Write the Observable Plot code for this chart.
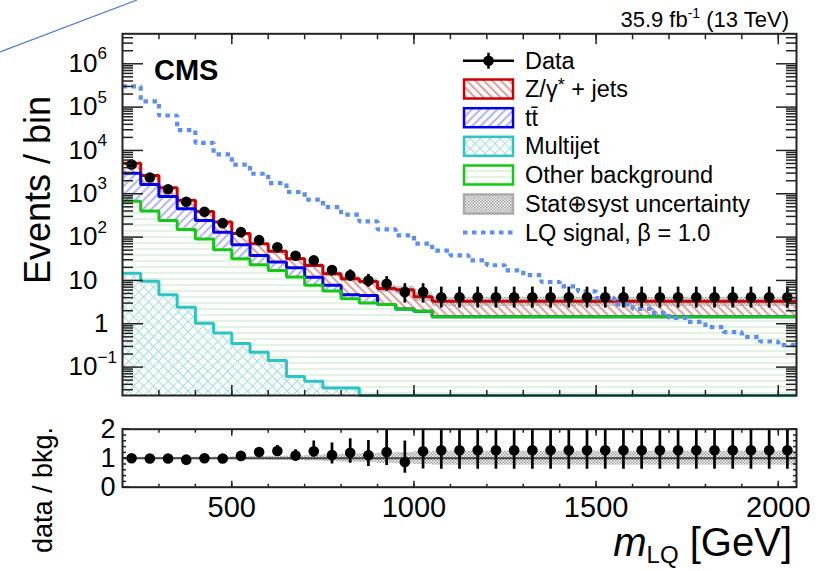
<!DOCTYPE html>
<html>
<head>
<meta charset="utf-8">
<script src="https://cdn.jsdelivr.net/npm/d3@7"></script>
<script src="https://cdn.jsdelivr.net/npm/@observablehq/plot@0.6"></script>
<style>
html,body{margin:0;padding:0;background:#fff}
#wrap{position:relative;width:834px;height:571px;overflow:hidden;font-family:"Liberation Sans",Arial,Helvetica,sans-serif}
#main,#ratio{position:absolute;left:0}
#main{top:0}
#ratio{top:400px}
#overlay{position:absolute;left:0;top:0;pointer-events:none}
</style>
</head>
<body>
<svg width="0" height="0" style="position:absolute;left:0;top:0">
 <defs>
  <pattern id="pZ" patternUnits="userSpaceOnUse" width="6" height="6" patternTransform="rotate(-45)">
    <rect width="6" height="6" fill="#fff"/>
    <line x1="3" y1="0" x2="3" y2="6" stroke="#e06565" stroke-width="1.3"/>
  </pattern>
  <pattern id="pTT" patternUnits="userSpaceOnUse" width="6" height="6" patternTransform="rotate(45)">
    <rect width="6" height="6" fill="#fff"/>
    <line x1="3" y1="0" x2="3" y2="6" stroke="#8c8cf5" stroke-width="1.3"/>
  </pattern>
  <pattern id="pMJ" patternUnits="userSpaceOnUse" width="7" height="7" patternTransform="rotate(45)">
    <rect width="7" height="7" fill="#fff"/>
    <line x1="3.5" y1="0" x2="3.5" y2="7" stroke="#9fe0e0" stroke-width="1"/>
    <line x1="0" y1="3.5" x2="7" y2="3.5" stroke="#9fe0e0" stroke-width="1"/>
  </pattern>
  <pattern id="pOther" patternUnits="userSpaceOnUse" width="6" height="6">
    <rect width="6" height="6" fill="#fff"/>
    <line x1="0" y1="3" x2="6" y2="3" stroke="#cdeccd" stroke-width="1.2"/>
  </pattern>
  <pattern id="pUnc" patternUnits="userSpaceOnUse" width="3" height="3">
    <rect x="0" y="0" width="1.5" height="1.5" fill="#9a9a9a"/>
    <rect x="1.5" y="1.5" width="1.5" height="1.5" fill="#9a9a9a"/>
  </pattern>
 </defs>
</svg>
<div id="wrap">
  <div id="main"></div>
  <div id="ratio"></div>
  <svg id="overlay" width="834" height="571"></svg>
</div>
<script>
// ---------- data ----------
const binLow = [200,250,300,350,400,450,500,550,600,650,700,750,800,850,900,950,1000,1050,1100,1150,1200,1250,1300,1350,1400,1450,1500,1550,1600,1650,1700,1750,1800,1850,1900,1950,2000];
const binWidth = 50;

const dataCounts = [4740,2380,1276,653,384,210,130,85,58,37,29,17.3,13.2,10,8.4,5.4,5.4,
  4.1,4.1,4.1,4.1,4.1,4.1,4.1,4.1,4.1,4.1,4.1,4.1,4.1,4.1,4.1,4.1,4.1,4.1,4.1,4.1];
const dataLow = [4670,2330,1240,627,364,196,119,76,50.5,31,23.7,13.5,9.6,7.0,5.6,3.0,3.0,
  2.3,2.3,2.3,2.3,2.3,2.3,2.3,2.3,2.3,2.3,2.3,2.3,2.3,2.3,2.3,2.3,2.3,2.3,2.3,2.3];
const dataHigh = [4810,2430,1312,679,404,225,141,94.5,66,43,34.5,22,17.5,13.8,12.2,8.4,8.4,
  7.0,7.0,7.0,7.0,7.0,7.0,7.0,7.0,7.0,7.0,7.0,7.0,7.0,7.0,7.0,7.0,7.0,7.0,7.0,7.0];

// stacked tops: Z/gamma*+jets (total), ttbar, other background, multijet
const stackTotal = [5080,2640,1375,713,390,222,121,70,47,31.6,22,14.2,10.9,9.5,6.5,6.1,4.2,
  3.3,3.3,3.3,3.3,3.3,3.3,3.3,3.3,3.3,3.3,3.3,3.3,3.3,3.3,3.3,3.3,3.3,3.3,3.3,3.3];
const stackTT = [2990,1640,867,450,242,130,66.5,37.8,26.5,19.6,11.9,7.7,4.7,4.5,2.8,2.2,1.95,
  1.45,1.45,1.45,1.45,1.45,1.45,1.45,1.45,1.45,1.45,1.45,1.45,1.45,1.45,1.45,1.45,1.45,1.45,1.45,1.45];
const stackOther = [675,398,242,150,91,51,31.6,23,17,12,7.7,5.7,3.8,3.0,2.8,2.2,1.95,
  1.45,1.45,1.45,1.45,1.45,1.45,1.45,1.45,1.45,1.45,1.45,1.45,1.45,1.45,1.45,1.45,1.45,1.45,1.45,1.45];
const multijet = [14.7,9.6,4.7,2.4,1.03,0.61,0.35,0.22,0.142,0.061,0.047,0.033,0.033,
  0,0,0,0,0,0,0,0,0,0,0,0,0,0,0,0,0,0,0,0,0,0,0,0];
const lqSignal = [300000,135000,64000,29500,15000,8100,4700,2900,1770,1100,730,490,330,230,150,110,71,
  49,37.7,28.9,22.4,17.1,13.2,9.2,7.3,5.6,3.9,2.8,2.2,1.76,1.36,1.1,0.84,0.64,0.5,0.39,0.32];
const uncRel = [0.03,0.03,0.03,0.03,0.03,0.04,0.05,0.06,0.07,0.08,0.1,0.12,0.14,0.15,0.18,0.2,0.22,
  0.24,0.24,0.24,0.24,0.24,0.24,0.24,0.24,0.24,0.24,0.24,0.24,0.24,0.24,0.24,0.24,0.24,0.24,0.24,0.24];

const ratioVal = [1.0,0.99,0.99,0.95,1.0,0.99,1.08,1.21,1.25,1.09,1.24,1.11,1.19,1.10,1.21,0.87,1.24,
  1.27,1.27,1.27,1.27,1.27,1.27,1.27,1.27,1.27,1.27,1.27,1.27,1.27,1.27,1.27,1.27,1.27,1.27,1.27,1.27];
const ratioLow = [0.98,0.97,0.96,0.91,0.95,0.93,0.99,1.1,1.08,0.94,1.03,0.8,0.83,0.71,0.75,0.48,0.63,
  0.62,0.62,0.62,0.62,0.62,0.62,0.62,0.62,0.62,0.62,0.62,0.62,0.62,0.62,0.62,0.62,0.62,0.62,0.62,0.62];
const ratioHigh = [1.02,1.01,1.02,0.99,1.05,1.05,1.17,1.32,1.44,1.29,1.59,1.52,1.67,1.61,1.98,1.59,2.3,
  2.5,2.5,2.5,2.5,2.5,2.5,2.5,2.5,2.5,2.5,2.5,2.5,2.5,2.5,2.5,2.5,2.5,2.5,2.5,2.5];

// axis ticks and labels
const yTickValues = [1e6,1e5,1e4,1e3,100,10,1,0.1];
const yTickBase   = ["10","10","10","10","10","10","1","10"];
const yTickExp    = ["6","5","4","3","2","","","\u22121"];
const xTickValues = [500,1000,1500,2000];
const xTickLabels = ["500","1000","1500","2000"];
const ratioTickValues = [0,1,2];
const ratioTickLabels = ["0","1","2"];

const legendLabels = ["Data","Z/\u03b3","tt\u0304","Multijet","Other background","Stat\u2295syst uncertainty","LQ signal, \u03b2 = 1.0"];

// ---------- colours ----------
const cRed = "#cc0000", cBlue = "#0000f0", cCyan = "#2cc4c4", cGreen = "#14c814", cLQ = "#5d8ff2", cFrame = "#222";
const FONT = '"Liberation Sans", Arial, Helvetica, sans-serif';

// ---------- tables ----------
const bins = binLow.map((lo, i) => ({
  c: lo + binWidth / 2, n: dataCounts[i], lo: dataLow[i], hi: dataHigh[i],
  r: ratioVal[i], rlo: ratioLow[i], rhi: ratioHigh[i]
}));
const steps = (vals) => {
  const pts = binLow.map((lo, i) => ({x: lo, y: vals[i]}));
  pts.push({x: binLow[binLow.length - 1] + binWidth, y: vals[vals.length - 1]});
  return pts;
};
const bandSteps = (lo, hi) => {
  const pts = binLow.map((b, i) => ({x: b, lo: lo(i), hi: hi(i)}));
  const k = binLow.length - 1;
  pts.push({x: binLow[k] + binWidth, lo: lo(k), hi: hi(k)});
  return pts;
};
const mainBand = bandSteps(i => stackTotal[i] * (1 - uncRel[i]), i => stackTotal[i] * (1 + uncRel[i]));
const ratioBand = bandSteps(i => 1 - uncRel[i], i => 1 + uncRel[i]);

const yMin = 0.0221, yMax = 4.92e6;
const yMinor = [];
for (let e = -2; e <= 6; e++) for (let m = 2; m <= 9; m++) {
  const v = m * Math.pow(10, e);
  if (v > yMin && v < yMax) yMinor.push(v);
}
const xMinor = d3.range(300, 2050, 100);
const ratioMinor = d3.range(0, 2.001, 0.2);

const noText = () => "";
const stepOpts = {x: "x", y: "y", curve: "step-after"};
const isPlainOne = (d, i) => yTickBase[i] === "1" && yTickExp[i] === "";

const main = Plot.plot({
  width: 834, height: 400,
  marginLeft: 122, marginRight: 38, marginTop: 33.3, marginBottom: 5,
  style: {fontFamily: FONT, background: "none", overflow: "visible", color: "#000"},
  x: {domain: [200, 2050], axis: null},
  y: {type: "log", domain: [yMin, yMax], clamp: true, axis: null},
  marks: [
    Plot.areaY(steps(stackTotal), {x: "x", y1: yMin, y2: "y", curve: "step-after", fill: "url(#pZ)"}),
    Plot.areaY(steps(stackTT), {x: "x", y1: yMin, y2: "y", curve: "step-after", fill: "url(#pTT)"}),
    Plot.areaY(steps(stackOther), {x: "x", y1: yMin, y2: "y", curve: "step-after", fill: "url(#pOther)"}),
    Plot.areaY(steps(multijet), {x: "x", y1: yMin, y2: "y", curve: "step-after", fill: "url(#pMJ)"}),
    Plot.areaY(mainBand, {x: "x", y1: "lo", y2: "hi", curve: "step-after", fill: "url(#pUnc)"}),
    Plot.lineY(steps(stackTotal), {...stepOpts, stroke: cRed, strokeWidth: 3, strokeLinejoin: "miter", strokeLinecap: "butt"}),
    Plot.lineY(steps(stackTT), {...stepOpts, stroke: cBlue, strokeWidth: 3, strokeLinejoin: "miter", strokeLinecap: "butt"}),
    Plot.lineY(steps(stackOther), {...stepOpts, stroke: cGreen, strokeWidth: 3, strokeLinejoin: "miter", strokeLinecap: "butt"}),
    Plot.lineY(steps(multijet), {...stepOpts, stroke: cCyan, strokeWidth: 3, strokeLinejoin: "miter", strokeLinecap: "butt"}),
    Plot.lineY(steps(lqSignal), {...stepOpts, stroke: cLQ, strokeWidth: 4.2, strokeDasharray: "4.5,4.5", strokeLinecap: "butt", strokeLinejoin: "miter"}),
    Plot.ruleX(bins, {x: "c", y1: "lo", y2: "hi", stroke: "#000", strokeWidth: 2.7}),
    Plot.dot(bins, {x: "c", y: "n", r: 5.3, fill: "#000", stroke: "none"}),
    Plot.frame({stroke: cFrame, strokeWidth: 2}),
    Plot.axisY(yTickValues, {anchor: "left", tickSize: -21, tickFormat: noText, label: null, stroke: cFrame, strokeWidth: 1.5}),
    Plot.axisY(yMinor, {anchor: "left", tickSize: -11, tickFormat: noText, label: null, stroke: cFrame, strokeWidth: 1.5}),
    Plot.axisY(yTickValues, {anchor: "right", tickSize: -21, tickFormat: noText, label: null, stroke: cFrame, strokeWidth: 1.5}),
    Plot.axisY(yMinor, {anchor: "right", tickSize: -11, tickFormat: noText, label: null, stroke: cFrame, strokeWidth: 1.5}),
    Plot.axisX(xTickValues, {anchor: "top", tickSize: -10, tickFormat: noText, label: null, stroke: cFrame, strokeWidth: 1.5}),
    Plot.axisX(xMinor, {anchor: "top", tickSize: -5, tickFormat: noText, label: null, stroke: cFrame, strokeWidth: 1.5}),
    Plot.axisX(xTickValues, {anchor: "bottom", tickSize: -10, tickFormat: noText, label: null, stroke: cFrame, strokeWidth: 1.5}),
    Plot.axisX(xMinor, {anchor: "bottom", tickSize: -5, tickFormat: noText, label: null, stroke: cFrame, strokeWidth: 1.5}),
    Plot.text(yTickValues, {filter: (d, i) => !isPlainOne(d, i), y: d => d, text: (d, i) => yTickBase[i], frameAnchor: "left", textAnchor: "end", lineAnchor: "middle", dx: -25, fontSize: 26, fill: "#000"}),
    Plot.text(yTickValues, {filter: isPlainOne, y: d => d, text: (d, i) => yTickBase[i], frameAnchor: "left", textAnchor: "end", lineAnchor: "middle", dx: -14, fontSize: 26, fill: "#000"}),
    Plot.text(yTickValues, {y: d => d, text: (d, i) => yTickExp[i], frameAnchor: "left", textAnchor: "start", lineAnchor: "middle", dx: -25, dy: -10, fontSize: 17, fill: "#000"})
  ]
});
document.getElementById("main").appendChild(main);

const ratio = Plot.plot({
  width: 834, height: 171,
  marginLeft: 122, marginRight: 38, marginTop: 28.7, marginBottom: 84.3,
  style: {fontFamily: FONT, background: "none", overflow: "visible", color: "#000"},
  x: {domain: [200, 2050], axis: null},
  y: {domain: [0, 2], axis: null},
  marks: [
    Plot.areaY(ratioBand, {x: "x", y1: "lo", y2: "hi", curve: "step-after", fill: "url(#pUnc)"}),
    Plot.ruleY([1], {stroke: "#444", strokeWidth: 2}),
    Plot.ruleX(bins, {x: "c", y1: "rlo", y2: "rhi", stroke: "#000", strokeWidth: 2.7, clip: true}),
    Plot.dot(bins, {x: "c", y: "r", r: 5.3, fill: "#000", stroke: "none"}),
    Plot.frame({stroke: cFrame, strokeWidth: 2}),
    Plot.axisY(ratioTickValues, {anchor: "left", tickSize: -8, tickFormat: noText, label: null, stroke: cFrame, strokeWidth: 1.5}),
    Plot.axisY(ratioMinor, {anchor: "left", tickSize: -4, tickFormat: noText, label: null, stroke: cFrame, strokeWidth: 1.5}),
    Plot.axisY(ratioTickValues, {anchor: "right", tickSize: -8, tickFormat: noText, label: null, stroke: cFrame, strokeWidth: 1.5}),
    Plot.axisY(ratioMinor, {anchor: "right", tickSize: -4, tickFormat: noText, label: null, stroke: cFrame, strokeWidth: 1.5}),
    Plot.axisX(xTickValues, {anchor: "top", tickSize: -6, tickFormat: noText, label: null, stroke: cFrame, strokeWidth: 1.5}),
    Plot.axisX(xMinor, {anchor: "top", tickSize: -3, tickFormat: noText, label: null, stroke: cFrame, strokeWidth: 1.5}),
    Plot.axisX(xTickValues, {anchor: "bottom", tickSize: -6, tickFormat: noText, label: null, stroke: cFrame, strokeWidth: 1.5}),
    Plot.axisX(xMinor, {anchor: "bottom", tickSize: -3, tickFormat: noText, label: null, stroke: cFrame, strokeWidth: 1.5}),
    Plot.text(ratioTickValues, {y: d => d, text: (d, i) => ratioTickLabels[i], frameAnchor: "left", textAnchor: "end", lineAnchor: "middle", dx: -7, fontSize: 27, fill: "#000"}),
    Plot.text(xTickValues, {x: d => d, text: (d, i) => xTickLabels[i], frameAnchor: "bottom", textAnchor: "middle", lineAnchor: "middle", dy: 21, fontSize: 29, fill: "#000"})
  ]
});
document.getElementById("ratio").appendChild(ratio);

// ---------- titles, annotations and legend ----------
const ov = d3.select("#overlay").attr("font-family", FONT);
ov.append("line").attr("x1", 0).attr("y1", 52).attr("x2", 137).attr("y2", 0)
  .attr("stroke", "#4a78d0").attr("stroke-width", 1.2);

const lumi = ov.append("text").attr("x", 789).attr("y", 27).attr("text-anchor", "end").attr("font-size", 22);
lumi.append("tspan").text("35.9 fb");
lumi.append("tspan").attr("dy", -9).attr("font-size", 14).text("-1");
lumi.append("tspan").attr("dy", 9).text(" (13 TeV)");

ov.append("text").attr("x", 154).attr("y", 80).attr("font-size", 29).attr("font-weight", "bold").text("CMS");

ov.append("text").attr("transform", "translate(50,190) rotate(-90)").attr("text-anchor", "middle")
  .attr("font-size", 36).text("Events / bin");
ov.append("text").attr("transform", "translate(52,490) rotate(-90)").attr("text-anchor", "middle")
  .attr("font-size", 27).text("data / bkg.");

const xt = ov.append("text").attr("x", 792).attr("y", 556).attr("text-anchor", "end").attr("font-size", 40);
xt.append("tspan").attr("font-style", "italic").text("m");
xt.append("tspan").attr("font-size", 24).attr("dy", 7).text("LQ");
xt.append("tspan").attr("dy", -7).text(" [GeV]");

// legend
const lgX = 463, lgW = 51, lgText = 525, rowY = [60.7, 89, 117.7, 146.3, 175, 204, 232.5];
const lg = ov.append("g");
lg.append("line").attr("x1", lgX).attr("x2", lgX + lgW).attr("y1", rowY[0]).attr("y2", rowY[0]).attr("stroke", "#000").attr("stroke-width", 2.5);
lg.append("line").attr("x1", lgX + lgW / 2).attr("x2", lgX + lgW / 2).attr("y1", rowY[0] - 8).attr("y2", rowY[0] + 8).attr("stroke", "#000").attr("stroke-width", 2.5);
lg.append("circle").attr("cx", lgX + lgW / 2).attr("cy", rowY[0]).attr("r", 5.3).attr("fill", "#000");
const boxes = [
  {fill: "url(#pZ)", stroke: cRed},
  {fill: "url(#pTT)", stroke: cBlue},
  {fill: "url(#pMJ)", stroke: cCyan},
  {fill: "url(#pOther)", stroke: cGreen},
  {fill: "url(#pUnc)", stroke: "#aaa"}
];
boxes.forEach((b, k) => {
  lg.append("rect").attr("x", lgX + 1).attr("y", rowY[k + 1] - 9.5).attr("width", lgW - 2).attr("height", 19)
    .attr("fill", b.fill).attr("stroke", b.stroke).attr("stroke-width", 2.5);
});
lg.append("line").attr("x1", lgX).attr("x2", lgX + lgW).attr("y1", rowY[6]).attr("y2", rowY[6])
  .attr("stroke", cLQ).attr("stroke-width", 4.2).attr("stroke-dasharray", "4.5,4.5");
legendLabels.forEach((t, k) => {
  const tx = lg.append("text").attr("x", lgText).attr("y", rowY[k] + 8).attr("font-size", 23.5);
  if (k === 1) {
    tx.append("tspan").text(t);
    tx.append("tspan").attr("dy", -6).attr("font-size", 18).text("*");
    tx.append("tspan").attr("dy", 6).text(" + jets");
  } else {
    tx.text(t);
  }
});
</script>
</body>
</html>
